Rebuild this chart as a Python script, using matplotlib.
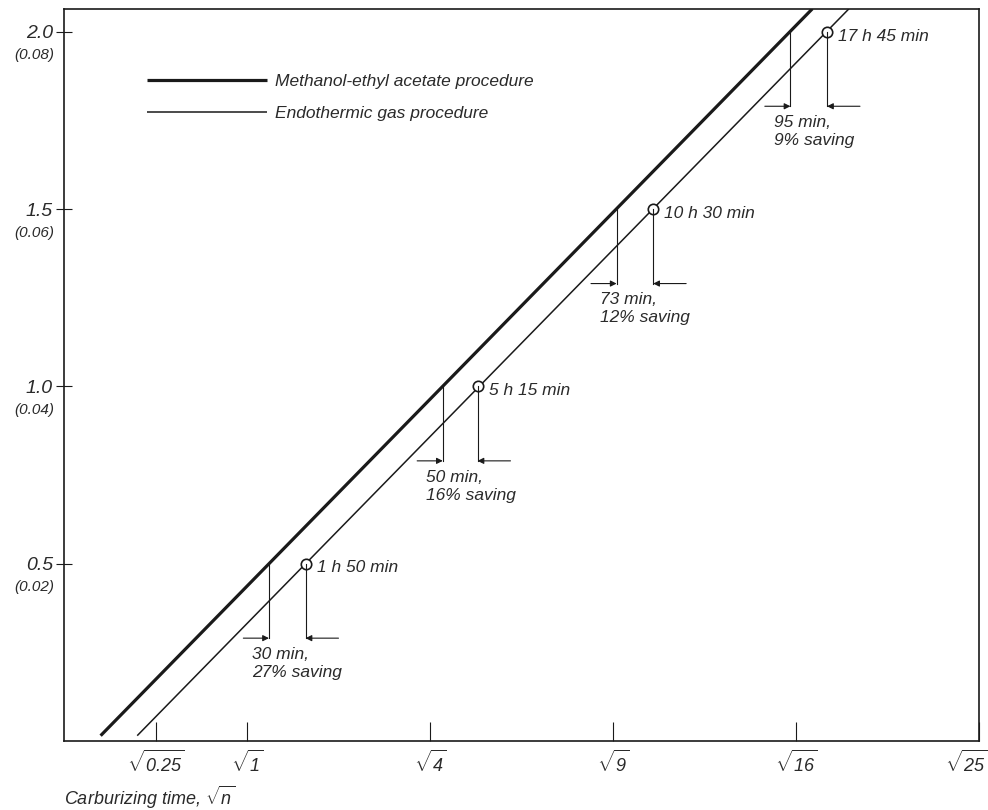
import numpy as np
import matplotlib
matplotlib.use("Agg")
import matplotlib.pyplot as plt
import matplotlib.transforms as mtransforms

plt.rcParams['font.family'] = ['Liberation Sans', 'DejaVu Sans']
plt.rcParams['font.style'] = 'italic'
plt.rcParams['mathtext.fontset'] = 'custom'
plt.rcParams['mathtext.rm'] = 'Liberation Sans:italic'
plt.rcParams['mathtext.it'] = 'Liberation Sans:italic'

INK = '#1a1a1a'
TXT = '#2a2a2a'

# case depth in mm (inch)
depth = [0.5, 1.0, 1.5, 2.0]
depth_in = ['(0.02)', '(0.04)', '(0.06)', '(0.08)']

# sqrt(hours)
endo_x = [1.32, 2.26, 3.22, 4.17]
meth_x = [1.12, 2.07, 3.02, 3.97]
endo_labels = ['1 h 50 min', '5 h 15 min', '10 h 30 min', '17 h 45 min']
saving_labels = ['30 min,\n27% saving', '50 min,\n16% saving',
                 '73 min,\n12% saving', '95 min,\n9% saving']

# the two straight lines, start and end
meth_line_x = [0.20, 4.09]
endo_line_x = [0.40, 4.29]
line_y = [0.015, 2.065]

xtick_vals = [0.5, 1, 2, 3, 4, 5]
xtick_labels = [r'$\sqrt{0.25}$', r'$\sqrt{1}$', r'$\sqrt{4}$',
                r'$\sqrt{9}$', r'$\sqrt{16}$', r'$\sqrt{25}$']

fig = plt.figure(figsize=(9.88, 8.10), dpi=100)
ax = fig.add_axes([0.0648, 0.0852, 0.926, 0.904])

ax.plot(meth_line_x, line_y, color=INK, lw=2.3, solid_capstyle='butt',
        label='Methanol-ethyl acetate procedure')
ax.plot(endo_line_x, line_y, color=INK, lw=1.1, solid_capstyle='butt',
        label='Endothermic gas procedure')
ax.plot(endo_x, depth, 'o', ms=7.5, mfc='white', mec=INK, mew=1.2)

drop = 0.21
for d, mx, ex, lab, sav in zip(depth, meth_x, endo_x, endo_labels, saving_labels):
    yb = d - drop
    ax.plot([mx, mx], [d, yb], color=INK, lw=0.8)
    ax.plot([ex, ex], [d, yb], color=INK, lw=0.8)
    ax.annotate('', xy=(mx, yb), xytext=(mx - 0.14, yb),
                arrowprops=dict(arrowstyle='-|>', color=INK, lw=0.8,
                                mutation_scale=9, shrinkA=0, shrinkB=0))
    ax.annotate('', xy=(ex, yb), xytext=(ex + 0.18, yb),
                arrowprops=dict(arrowstyle='-|>', color=INK, lw=0.8,
                                mutation_scale=9, shrinkA=0, shrinkB=0))
    ax.text(ex + 0.06, d - 0.012, lab, fontsize=12.5, color=TXT,
            ha='left', va='center')
    ax.text(mx - 0.09, d - 0.235, sav, fontsize=12.5, color=TXT,
            ha='left', va='top', linespacing=1.25)

ax.set_xlim(0, 5.0)
ax.set_ylim(0, 2.065)

ax.set_xticks(xtick_vals)
ax.set_xticklabels(xtick_labels, fontsize=13, color=TXT)
ax.tick_params(axis='x', direction='in', length=14, width=0.8, pad=6, colors=INK,
               labelcolor=TXT)
# last label sits flush against the right border
last = ax.get_xticklabels()[-1]
last.set_horizontalalignment('right')
last.set_transform(last.get_transform() +
                   mtransforms.ScaledTranslation(6 / 72, 0, fig.dpi_scale_trans))

ax.set_yticks(depth)
ax.set_yticklabels([f'{d:.1f}' for d in depth], fontsize=14, color=TXT)
ax.tick_params(axis='y', direction='inout', length=12, width=0.8, pad=2, colors=INK,
               labelcolor=TXT)
for d, s in zip(depth, depth_in):
    ax.annotate(s, xy=(0, d), xycoords=('axes fraction', 'data'),
                xytext=(-7, -17), textcoords='offset points',
                ha='right', va='center', fontsize=11, color=TXT)

for sp in ax.spines.values():
    sp.set_linewidth(1.2)
    sp.set_color(INK)

ax.set_xlabel(r'Carburizing time, $\sqrt{n}$', fontsize=13, color=TXT,
              loc='left', labelpad=6)

leg = ax.legend(loc='upper left', bbox_to_anchor=(0.083, 0.92), frameon=False,
                fontsize=12.5, handlelength=6.9, handletextpad=0.5,
                labelspacing=0.95, borderaxespad=0)
for t in leg.get_texts():
    t.set_color(TXT)

fig.savefig('out.png', dpi=100)
